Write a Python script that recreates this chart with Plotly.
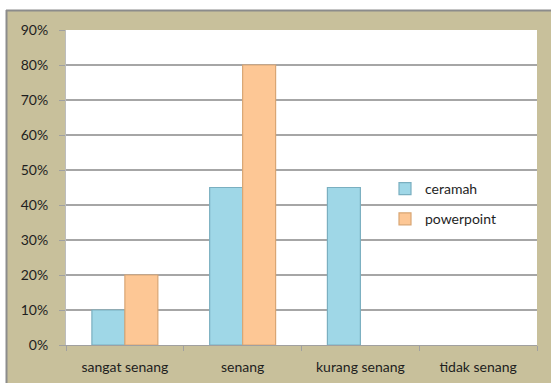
import plotly.graph_objects as go

categories = ["sangat senang", "senang", "kurang senang", "tidak senang"]
ceramah = [0.10, 0.45, 0.45, 0.0]
powerpoint = [0.20, 0.80, 0.0, 0.0]
y_ticks = [0, 0.1, 0.2, 0.3, 0.4, 0.5, 0.6, 0.7, 0.8, 0.9]

W, H = 551, 383
L, R, T, B = 66, 14, 30, 38
pw, ph = W - L - R, H - T - B

def px_x(v):
    return (v - L) / pw

def px_y(v):
    return (H - B - v) / ph

tan = "#C8C09B"
font = dict(family="Lato, 'Open Sans', sans-serif", size=14, color="#1E1E1E")

def edge_widths(vals):
    return [1.2 if v > 0 else 0 for v in vals]

fig = go.Figure()
fig.add_trace(go.Bar(
    name="ceramah", x=categories, y=ceramah, legendgroup="a",
    marker=dict(color="#9FD7E7", line=dict(color="#7AAFC0", width=edge_widths(ceramah))),
))
fig.add_trace(go.Bar(
    name="powerpoint", x=categories, y=powerpoint, legendgroup="b",
    marker=dict(color="#FDC795", line=dict(color="#D9A674", width=edge_widths(powerpoint))),
))

shapes = [
    dict(type="rect", xref="paper", yref="paper", x0=px_x(-5), x1=px_x(W + 5),
         y0=px_y(10), y1=px_y(-5), fillcolor="white", line_width=0, layer="above"),
    dict(type="rect", xref="paper", yref="paper", x0=px_x(-5), x1=px_x(6),
         y0=px_y(H + 5), y1=px_y(-5), fillcolor="white", line_width=0, layer="above"),
    dict(type="line", xref="paper", yref="paper", x0=px_x(6), x1=px_x(W + 5),
         y0=px_y(10.5), y1=px_y(10.5), line=dict(color="#8C8C8C", width=2), layer="above"),
    dict(type="line", xref="paper", yref="paper", x0=px_x(6.5), x1=px_x(6.5),
         y0=px_y(10), y1=px_y(H + 5), line=dict(color="#8C8C8C", width=2), layer="above"),
]

fig.update_layout(
    width=W, height=H,
    margin=dict(l=L, r=R, t=T, b=B),
    paper_bgcolor=tan, plot_bgcolor="white",
    barmode="group", bargap=0.44, bargroupgap=0.0,
    font=font,
    shapes=shapes,
    legend=dict(x=px_x(385), y=px_y(173), xanchor="left", yanchor="top",
                bgcolor="rgba(0,0,0,0)", font=font, traceorder="grouped",
                tracegroupgap=9, itemwidth=30),
    xaxis=dict(showgrid=False, ticks="outside", tickson="boundaries", ticklen=5,
               tickcolor="#A0A0A0", showline=True, linecolor="#A0A0A0", linewidth=1,
               tickfont=font, ticklabelstandoff=9, automargin=False),
    yaxis=dict(range=[0, 0.9], tickvals=y_ticks, tickformat=".0%",
               showgrid=True, gridcolor="#A6A6A6", gridwidth=1.5,
               ticks="outside", ticklen=6, tickcolor="#A0A0A0",
               showline=True, linecolor="#BDBDBD", linewidth=1,
               zeroline=False, tickfont=font, ticklabelstandoff=8, automargin=False),
)

fig.write_html("out.html")
